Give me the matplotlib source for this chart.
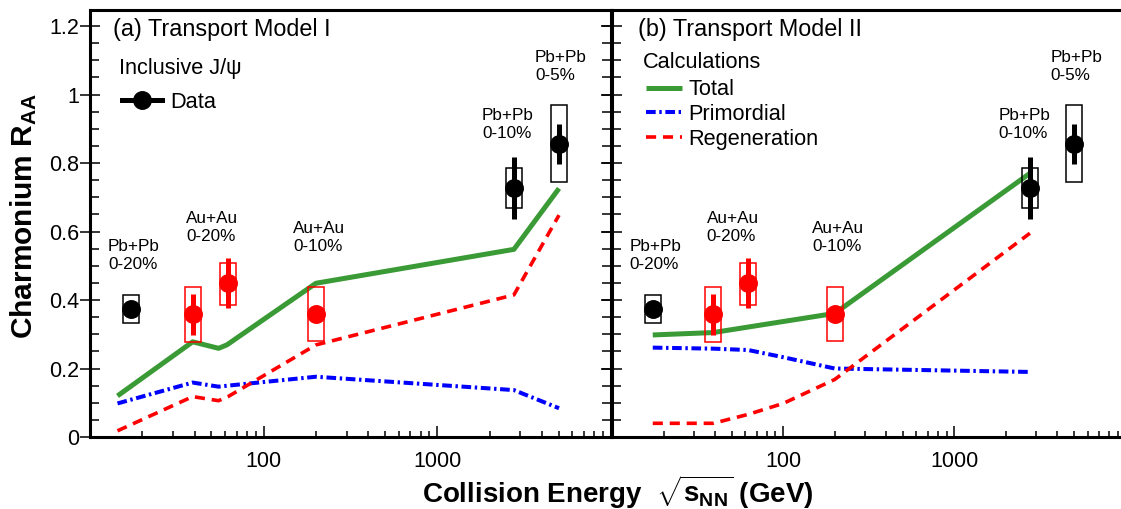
import matplotlib
matplotlib.use('Agg')
import matplotlib.pyplot as plt
from matplotlib.patches import Rectangle
from matplotlib.lines import Line2D
from matplotlib.ticker import LogLocator, NullFormatter, MultipleLocator

plt.rcParams['font.family'] = ['Liberation Sans', 'DejaVu Sans']
plt.rcParams['mathtext.fontset'] = 'custom'
plt.rcParams['mathtext.rm'] = 'Liberation Sans:bold'
plt.rcParams['mathtext.it'] = 'Liberation Sans:bold'
plt.rcParams['mathtext.bf'] = 'Liberation Sans:bold'

# ---- data points (inclusive J/psi) ----
energy = [17.3, 39, 62.4, 200, 2760, 5020]
raa = [0.373, 0.358, 0.45, 0.358, 0.728, 0.855]
stat_err = [0.02, 0.059, 0.073, 0.02, 0.09, 0.058]
sys_lo = [0.041, 0.08, 0.065, 0.078, 0.059, 0.111]
sys_hi = [0.042, 0.081, 0.058, 0.081, 0.058, 0.114]
point_colors = ['black', 'red', 'red', 'red', 'black', 'black']
systems = ['Pb+Pb\n0-20%', 'Au+Au\n0-20%', 'Au+Au\n0-10%', 'Pb+Pb\n0-10%', 'Pb+Pb\n0-5%']
label_x = [12.7, 35.8, 148, 1810, 3650]
label_y = [0.531, 0.612, 0.582, 0.914, 1.082]

# ---- transport model I ----
m1_tot_x = [14.4, 39, 55, 61.4, 200, 2760, 5020]
m1_tot = [0.12, 0.278, 0.259, 0.269, 0.449, 0.548, 0.726]
m1_prim_x = [14.4, 39, 55, 62.4, 200, 2760, 5020]
m1_prim = [0.098, 0.159, 0.147, 0.15, 0.176, 0.137, 0.084]
m1_reg_x = [14.4, 39, 55, 62.4, 200, 2760, 5020]
m1_reg = [0.018, 0.118, 0.106, 0.118, 0.269, 0.415, 0.648]

# ---- transport model II ----
m2_tot_x = [17.3, 39, 200, 2760]
m2_tot = [0.298, 0.305, 0.361, 0.77]
m2_prim_x = [17.3, 39, 62.4, 100, 200, 2760]
m2_prim = [0.261, 0.258, 0.254, 0.233, 0.20, 0.19]
m2_reg_x = [17.3, 39, 62.4, 100, 200, 2760]
m2_reg = [0.04, 0.04, 0.066, 0.098, 0.168, 0.595]

green = '#3a9a35'
W, H = 1121, 509
fig = plt.figure(figsize=(W / 100, H / 100), dpi=100)
ax1 = fig.add_axes([90 / W, 72 / H, 521 / W, 427 / H])
ax2 = fig.add_axes([612 / W, 72 / H, 513.6 / W, 427 / H], sharey=ax1)


def draw_panel(ax, tx, ty, px, py, rx, ry):
    lt, = ax.plot(tx, ty, color=green, lw=3.6, solid_capstyle='butt', zorder=2)
    lp, = ax.plot(px, py, color='blue', lw=2.9, dashes=(2.4, 0.9, 0.6, 0.9), zorder=2)
    lr, = ax.plot(rx, ry, color='red', lw=2.6, dashes=(2.8, 1.9), zorder=2)
    f = 1.112
    for x, y, e, lo, hi, c in zip(energy, raa, stat_err, sys_lo, sys_hi, point_colors):
        ax.add_patch(Rectangle((x / f, y - lo), x * f - x / f, lo + hi, fill=False,
                               edgecolor=c, lw=1.1, zorder=3))
        ax.errorbar([x], [y], yerr=[e], fmt='o', color=c, ms=12.6, elinewidth=3.6,
                    capsize=0, zorder=4)
    for s, x, y in zip(systems, label_x, label_y):
        ax.text(x, y, s, fontsize=12.3, ha='left', va='center', linespacing=1.25)
    ax.set_xscale('log')
    ax.set_xlim(10, 10000)
    ax.set_ylim(0, 1.247)
    ax.set_xticks([100, 1000], labels=['100', '1000'])
    ax.xaxis.set_minor_locator(LogLocator(base=10, subs=range(2, 10)))
    ax.xaxis.set_minor_formatter(NullFormatter())
    ax.yaxis.set_major_locator(MultipleLocator(0.2))
    ax.yaxis.set_minor_locator(MultipleLocator(0.05))
    ax.tick_params(axis='x', which='major', direction='in', length=8, width=1.1,
                   labelsize=15.5, pad=10, top=False)
    ax.tick_params(axis='x', which='minor', direction='in', length=4.3, width=1.1, top=False)
    ax.tick_params(axis='y', which='major', direction='inout', length=14, width=1.1,
                   labelsize=15.5, pad=1)
    ax.tick_params(axis='y', which='minor', direction='in', length=6.5, width=1.1)
    for sp in ax.spines.values():
        sp.set_linewidth(2.2)
    return lt, lp, lr


draw_panel(ax1, m1_tot_x, m1_tot, m1_prim_x, m1_prim, m1_reg_x, m1_reg)
lt, lp, lr = draw_panel(ax2, m2_tot_x, m2_tot, m2_prim_x, m2_prim, m2_reg_x, m2_reg)

ax1.tick_params(axis='y', which='both', left=True, right=True)
ax2.tick_params(axis='y', which='both', left=True, right=False, labelleft=False)
ax1.set_yticks([0, 0.2, 0.4, 0.6, 0.8, 1.0, 1.2], labels=['0', '0.2', '0.4', '0.6', '0.8', '1', '1.2'])

# panel titles and legends
ax1.text(0.044, 0.955, '(a) Transport Model I', transform=ax1.transAxes,
         fontsize=16.8, ha='left', va='center')
ax2.text(0.0506, 0.955, '(b) Transport Model II', transform=ax2.transAxes,
         fontsize=16.8, ha='left', va='center')
ax1.text(0.0557, 0.864, 'Inclusive J/\u03c8', transform=ax1.transAxes,
         fontsize=15.7, ha='left', va='center')
ax2.text(0.0604, 0.8775, 'Calculations', transform=ax2.transAxes,
         fontsize=15.7, ha='left', va='center')

data_handle = Line2D([], [], color='black', lw=3.6, marker='o', ms=12.6)
ax1.legend([data_handle], ['Data'], loc='center left', bbox_to_anchor=(0.0614, 0.784),
           frameon=False, fontsize=15.7, borderpad=0, borderaxespad=0,
           handlelength=1.83, handletextpad=0.37)
ax2.legend([lt, lp, lr], ['Total', 'Primordial', 'Regeneration'], loc='upper left',
           bbox_to_anchor=(0.0662, 0.838), frameon=False, fontsize=15.7, borderpad=0,
           borderaxespad=0, handlelength=1.64, handletextpad=0.32, labelspacing=0.18)

fig.text(24 / W, 1 - 216 / H, 'Charmonium R$_{AA}$', rotation=90, fontsize=21.5,
         fontweight='bold', ha='center', va='center')
fig.text(618 / W, 1 - 492 / H, 'Collision Energy  $\\sqrt{s_{NN}}$ (GeV)', fontsize=20,
         fontweight='bold', ha='center', va='center')

fig.savefig('out.png', dpi=100)
